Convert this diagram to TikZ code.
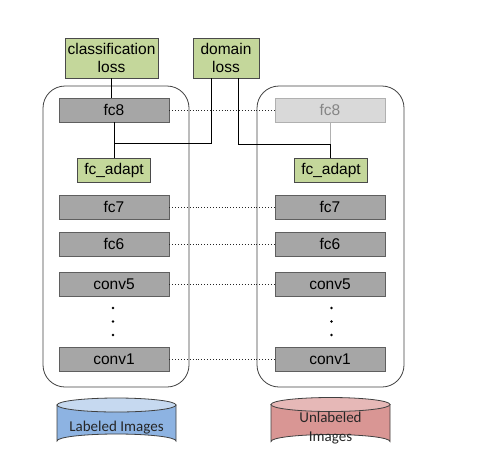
\documentclass[tikz,border=0pt]{standalone}
\usepackage{fontspec}
\setmainfont{Liberation Sans}
\newfontfamily\calibrilike{Carlito}
\definecolor{layergray}{HTML}{A6A6A6}
\definecolor{layeredge}{HTML}{5F5F5F}
\definecolor{lossgreen}{HTML}{C4D79B}
\definecolor{lossedge}{HTML}{4A4A4A}
\definecolor{fadedfill}{HTML}{D9D9D9}
\definecolor{fadededge}{HTML}{B0B0B0}
\definecolor{fadedtext}{HTML}{858585}
\definecolor{srcbody}{HTML}{8DB3E2}
\definecolor{srctop}{HTML}{C6D9F0}
\definecolor{tgtbody}{HTML}{D99694}
\definecolor{tgttop}{HTML}{E6B8B7}
\definecolor{dbedge}{HTML}{404040}
\tikzset{
  layer/.style={draw=layeredge, fill=layergray, line width=0.9pt,
    minimum width=110pt, minimum height=24pt, inner sep=0pt,
    font=\fontsize{15.5}{17}\selectfont},
  fadedlayer/.style={layer, draw=fadededge, fill=fadedfill, text=fadedtext},
  adapt/.style={draw=lossedge, fill=lossgreen, line width=0.9pt,
    minimum width=73pt, minimum height=24pt, inner sep=0pt,
    font=\fontsize{15.5}{17}\selectfont},
  loss/.style={draw=lossedge, fill=lossgreen, line width=0.9pt,
    minimum height=40pt, inner sep=0pt, align=center,
    font=\fontsize{15.5}{18.5}\selectfont},
  netbox/.style={draw=dbedge, line width=0.8pt, rounded corners=22pt},
  tie/.style={black!85, dotted, line width=0.9pt},
  wire/.style={black, line width=1pt},
  fadedwire/.style={fadededge, line width=1pt},
  dots/.style={circle, fill=black, inner sep=0pt, minimum size=2.6pt},
  dblabel/.style={align=center, font=\calibrilike\fontsize{15}{19}\selectfont, text=black!85},
}
\begin{document}
\begin{tikzpicture}[x=1pt, y=-1pt]
  \useasboundingbox (0,0) rectangle (489,459);

  % network containers
  \draw[netbox] (43,86) rectangle (189,387);
  \draw[netbox] (257,86) rectangle (404,387);

  % loss heads
  \node[loss, minimum width=93pt] (cls) at (111.5,58) {classification\\loss};
  \node[loss, minimum width=66pt] (dom) at (226,58) {domain\\loss};

  % source stream
  \node[layer] (sfc8) at (114,110) {fc8};
  \node[adapt] (sad) at (114,170) {fc\_adapt};
  \node[layer] (sfc7) at (114,207) {fc7};
  \node[layer] (sfc6) at (114,244) {fc6};
  \node[layer] (sc5) at (114,284) {conv5};
  \node[layer] (sc1) at (114,359) {conv1};
  \node[dots] (sd1) at (113,308) {};
  \node[dots] (sd2) at (113,321.5) {};
  \node[dots] (sd3) at (113,335) {};

  % target stream
  \node[fadedlayer] (tfc8) at (330,110) {fc8};
  \node[adapt] (tad) at (331,170) {fc\_adapt};
  \node[layer] (tfc7) at (330,207) {fc7};
  \node[layer] (tfc6) at (330,244) {fc6};
  \node[layer] (tc5) at (330,284) {conv5};
  \node[layer] (tc1) at (330,359) {conv1};
  \node[dots] (td1) at (331.5,308) {};
  \node[dots] (td2) at (331.5,321.5) {};
  \node[dots] (td3) at (331.5,335) {};

  % shared weights
  \foreach \a/\b in {sfc8/tfc8, sfc7/tfc7, sfc6/tfc6, sc5/tc5, sc1/tc1}
    \draw[tie] (\a.east) -- (\b.west);

  % loss wiring
  \coordinate (sj) at (114,143.5);
  \coordinate (tj) at (330,144);
  \draw[wire] (cls.south) -- (cls.south |- sfc8.north);
  \draw[wire] (sfc8.south) -- (sad.north);
  \draw[wire] (sj) -- (211,143.5) -- (211,78);
  \draw[fadedwire] (tfc8.south) -- (tj);
  \draw[wire] (238,78) -- (238,144) -- (tj) -- (tj |- tad.north);

  % image databases
  \begin{scope}[draw=dbedge, line width=0.8pt]
    \filldraw[fill=srcbody] (57,405) -- (57,441) arc[start angle=180, end angle=360, x radius=59.5, y radius=7] -- (176,405) -- cycle;
    \filldraw[fill=srctop] (116.5,405) ellipse[x radius=59.5, y radius=7];
    \filldraw[fill=tgtbody] (271,404.5) -- (271,441.5) arc[start angle=180, end angle=360, x radius=59.5, y radius=7] -- (390,404.5) -- cycle;
    \filldraw[fill=tgttop] (330.5,404.5) ellipse[x radius=59.5, y radius=7];
  \end{scope}
  \node[dblabel] (srcdb) at (116.5,428) {Labeled Images};
  \node[dblabel] (tgtdb) at (330.5,428) {Unlabeled\\Images};
\end{tikzpicture}
\end{document}
